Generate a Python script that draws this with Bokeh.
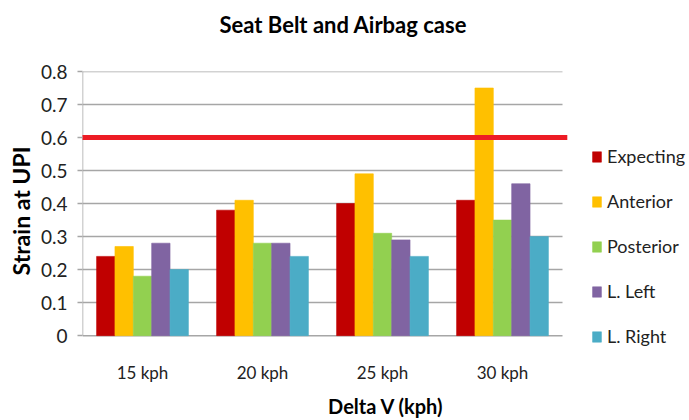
from bokeh.plotting import figure
from bokeh.models import Legend, LegendItem, FixedTicker, ColumnDataSource
from bokeh.embed import file_html
from bokeh.resources import INLINE

categories = ["15 kph", "20 kph", "25 kph", "30 kph"]
series_names = ["Expecting", "Anterior", "Posterior", "L. Left", "L. Right"]
expecting = [0.24, 0.38, 0.40, 0.41]
anterior = [0.27, 0.41, 0.49, 0.75]
posterior = [0.18, 0.28, 0.31, 0.35]
l_left = [0.28, 0.28, 0.29, 0.46]
l_right = [0.20, 0.24, 0.24, 0.30]
threshold = 0.6
y_ticks = [0, 0.1, 0.2, 0.3, 0.4, 0.5, 0.6, 0.7, 0.8]
colors = ["#C00000", "#FFC000", "#92D050", "#8064A2", "#4BACC6"]

FONT = "Lato"
series_values = [expecting, anterior, posterior, l_left, l_right]
n = len(categories)
centers = [i + 0.5 for i in range(n)]
y_max = y_ticks[-1]

W, H = 689, 420
p = figure(x_range=(0, (W - 82) / 120), y_range=(-0.045, y_max),
           width=W, height=H, output_backend="svg", toolbar_location=None,
           min_border_left=82, min_border_right=0, min_border_top=71,
           min_border_bottom=68)
p.outline_line_color = None
p.xgrid.grid_line_color = None
p.ygrid.grid_line_color = None

# horizontal gridlines spanning only the category area
grid_y = [t for t in y_ticks if t > 0]
p.segment(x0=[0] * len(grid_y), x1=[n] * len(grid_y), y0=grid_y, y1=grid_y,
          line_color="#A6A6A6", line_width=1.5)
# axis lines
p.segment(x0=[0], x1=[n], y0=[0], y1=[0], line_color="#A6A6A6", line_width=1.5)
p.segment(x0=[0], x1=[0], y0=[0], y1=[y_max], line_color="#A6A6A6", line_width=1.5)

w = 0.153
items = []
for k, (name, col, vals) in enumerate(zip(series_names, colors, series_values)):
    src = ColumnDataSource(dict(x=[c + (k - 2) * w for c in centers], top=vals))
    r = p.vbar(x="x", top="top", bottom=0, width=w, source=src, fill_color=col,
               line_color=col, line_alpha=0.6)
    items.append(LegendItem(label=name, renderers=[r]))

# threshold line
p.segment(x0=[-0.02], x1=[n + 0.04], y0=[threshold], y1=[threshold],
          line_color="#ED1C24", line_width=5)

# y axis
p.yaxis.ticker = FixedTicker(ticks=y_ticks)
p.yaxis.major_label_overrides = {0: "0"}
p.yaxis.minor_tick_line_color = None
p.yaxis.major_tick_in = 0
p.yaxis.major_tick_out = 5
p.yaxis.major_tick_line_color = "#A6A6A6"
p.yaxis.major_tick_line_width = 1.5
p.yaxis.axis_line_color = None
p.yaxis.major_label_text_font = FONT
p.yaxis.major_label_text_font_size = "19px"
p.yaxis.major_label_text_color = "#222222"
p.yaxis.major_label_standoff = 10
p.yaxis.axis_label = "Strain at UPI"
p.yaxis.axis_label_text_font = FONT
p.yaxis.axis_label_text_font_style = "bold"
p.yaxis.axis_label_text_font_size = "23px"
p.yaxis.axis_label_text_color = "#000000"
p.yaxis.axis_label_standoff = 3

# x axis (categories)
p.xaxis.ticker = FixedTicker(ticks=centers)
p.xaxis.major_label_overrides = {c: lab for c, lab in zip(centers, categories)}
p.xaxis.major_tick_line_color = None
p.xaxis.minor_tick_line_color = None
p.xaxis.axis_line_color = None
p.xaxis.major_label_text_font = FONT
p.xaxis.major_label_text_font_size = "17px"
p.xaxis.major_label_text_color = "#222222"
p.xaxis.major_label_standoff = 5
p.xaxis.axis_label = "Delta V (kph)"
p.xaxis.axis_label_text_font = FONT
p.xaxis.axis_label_text_font_style = "bold"
p.xaxis.axis_label_text_font_size = "20px"
p.xaxis.axis_label_text_color = "#000000"
p.xaxis.axis_label_standoff = 8

p.title.text = "Seat Belt and Airbag case\n "
p.title.align = "left"
p.title.offset = 137
p.title.text_font = FONT
p.title.text_font_size = "22px"
p.title.text_font_style = "bold"
p.title.text_color = "#000000"
p.title.standoff = 14

legend = Legend(items=items, location=(509, 3), padding=0, margin=0,
                spacing=23, label_height=20, glyph_height=13, glyph_width=11,
                label_text_font=FONT, label_text_font_size="18px",
                label_text_color="#222222", border_line_color=None,
                background_fill_alpha=0, label_standoff=5)
p.add_layout(legend)

open("out.html", "w").write(file_html(p, INLINE))
